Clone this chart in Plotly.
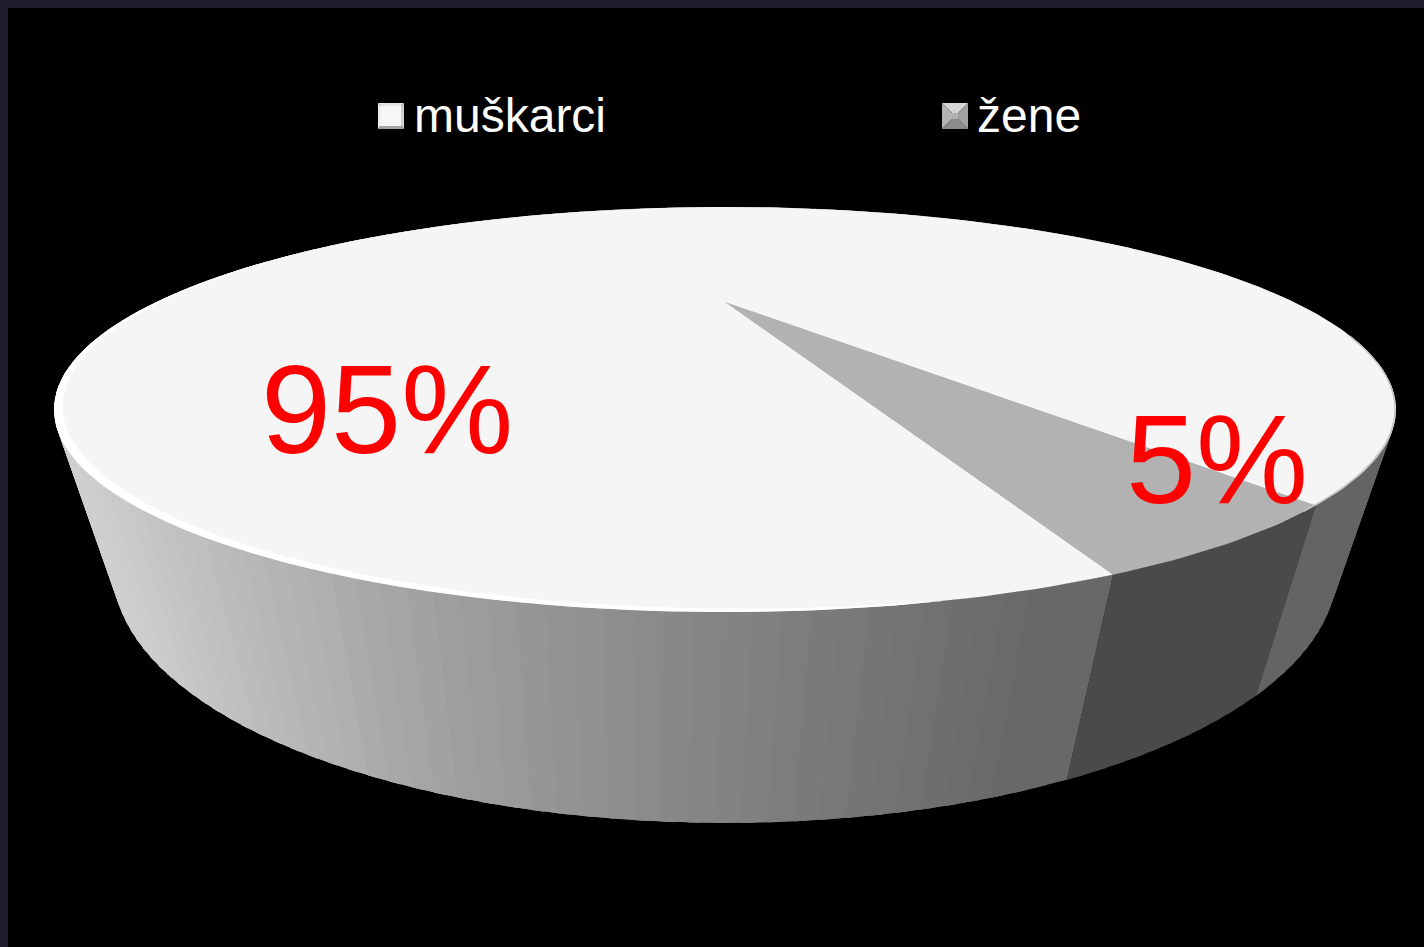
import numpy as np
import plotly.graph_objects as go

# ---- data ----
categories = ["muškarci", "žene"]
shares = [95, 5]
label_colors = ["#ff0000", "#ff0000"]

W, H = 1424, 947
START_DEG = 160.0          # clockwise from the far side, where the first slice begins
TOP = dict(cx=725.0, cy=302.0, A=568.6, B=145.4, k=0.531, warp=2.4)
BOT = dict(cx=725.0, cy=443.5, A=530.0, B=189.75, k=0.5, warp=1.7)
TOP_FILL = ["#f5f5f5", "#b2b2b2"]


def project(theta_deg, geo, r=1.0):
    th = np.asarray(theta_deg, dtype=float)
    th = th - geo["warp"] * np.sin(np.radians(2 * (th - START_DEG)))
    t = np.radians(th)
    u, v = r * np.sin(t), r * np.cos(t)
    w = 1 + geo["k"] * v
    return geo["cx"] + geo["A"] * u / w, geo["cy"] - geo["B"] * v / w


def wall_gray(x):
    return np.interp(x, [50, 130, 500, 720, 900, 1060, 1300, 1400],
                     [210, 206, 158, 136, 118, 104, 100, 100])


def gray(v):
    v = int(round(float(v)))
    return f"rgb({v},{v},{v})"


def poly(xs, ys, color, name=None):
    return go.Scatter(
        x=list(xs) + [xs[0]], y=list(ys) + [ys[0]], mode="lines", fill="toself",
        fillcolor=color, line=dict(color=color, width=0),
        hoverinfo="skip", showlegend=False, name=name)


fig = go.Figure()

# slice spans, derived from the values
spans = []
a = START_DEG
for s in shares:
    spans.append((a, a + 360 * s / sum(shares)))
    a += 360 * s / sum(shares)

# side walls: thin overlapping strips, so the shading has no visible seams
strips = []
for i, (a0, a1) in enumerate(spans):
    n = max(6, int((a1 - a0) / 1.5))
    edges = np.linspace(a0, a1, n + 1)
    step = edges[1] - edges[0]
    for e0 in edges[:-1]:
        e1 = min(e0 + 2.5 * step, a1)
        tx, ty = project([e0, e1], TOP)
        bx, by = project([e0, e1], BOT)
        mx, my = project(e0 + step / 2, TOP)
        nx, ny = project(e0 + step / 2, BOT)
        strips.append((i, e0, tx, ty, bx, by, (mx + nx) / 2))
for i, e0, tx, ty, bx, by, xm in sorted(strips, key=lambda q: (q[0], -q[1])):
    c = gray(74) if i == 1 else gray(wall_gray(xm))
    fig.add_trace(poly([tx[0], tx[1], bx[1], bx[0]], [ty[0], ty[1], by[1], by[0]], c))

# backing disc, then the top faces (the disc hides the hairline between the slices)
arc = np.linspace(0, 360, 361)
x, y = project(arc, TOP, r=0.998)
fig.add_trace(poly(list(x), list(y), "#d4d4d4"))
for i, (a0, a1) in enumerate(spans):
    arc = np.linspace(a0, a1, max(8, int(a1 - a0)))
    x, y = project(arc, TOP)
    fig.add_trace(poly([TOP["cx"]] + list(x), [TOP["cy"]] + list(y), TOP_FILL[i], name=categories[i]))

# white bevel on the near-left rim
arc = np.linspace(170, 292, 90)
taper = np.sin(np.pi * (arc - arc[0]) / (arc[-1] - arc[0])) ** 0.5
ox, oy = project(arc, TOP)
ix, iy = project(arc, TOP, r=1 - 0.0095 * taper)
fig.add_trace(poly(list(ox) + list(ix[::-1]), list(oy) + list(iy[::-1]), "#ffffff"))

# soft grey edge on the near-right rim
arc = np.linspace(100, 143.4, 40)
ex, ey = project(arc, TOP, r=0.999)
fig.add_trace(go.Scatter(x=ex, y=ey, mode="lines", line=dict(color="#c4c4c4", width=1.5),
                         hoverinfo="skip", showlegend=False))

# legend swatches with bevelled facets
FACETS = [
    dict(x=378, y=103, s=26, b=3, top="#e4e4e4", left="#eeeeee", right="#d0d0d0", bottom="#a4a4a4", mid="#f6f6f6"),
    dict(x=942, y=103, s=26, b=10, top="#d4d4d4", left="#b4b4b4", right="#a0a0a0", bottom="#8c8c8c", mid="#b0b0b0"),
]
for f, name in zip(FACETS, categories):
    x0, y0, s, b = f["x"], f["y"], f["s"], f["b"]
    x1, y1 = x0 + s, y0 + s
    fig.add_trace(poly([x0, x1, x1 - b, x0 + b], [y0, y0, y0 + b, y0 + b], f["top"], name=name))
    fig.add_trace(poly([x0, x0 + b, x0 + b, x0], [y0, y0 + b, y1 - b, y1], f["left"]))
    fig.add_trace(poly([x1, x1, x1 - b, x1 - b], [y0, y1, y1 - b, y0 + b], f["right"]))
    fig.add_trace(poly([x0, x0 + b, x1 - b, x1], [y1, y1 - b, y1 - b, y1], f["bottom"]))
    fig.add_trace(poly([x0 + b, x1 - b, x1 - b, x0 + b], [y0 + b, y0 + b, y1 - b, y1 - b], f["mid"]))

FONT = "Liberation Sans"
annotations = [
    dict(x=411.5, y=115, text=categories[0], xanchor="left", font=dict(size=48, color="#ffffff", family=FONT)),
    dict(x=975, y=115, text=categories[1], xanchor="left", font=dict(size=48, color="#ffffff", family=FONT)),
    dict(x=387, y=409, text=f"{shares[0]}%", xanchor="center", font=dict(size=126, color=label_colors[0], family=FONT)),
    dict(x=1217, y=459, text=f"{shares[1]}%", xanchor="center", font=dict(size=126, color=label_colors[1], family=FONT)),
]
for an in annotations:
    an.update(xref="x", yref="y", showarrow=False, yanchor="middle")

BORDER = "#1f1d2d"
fig.update_layout(
    width=W, height=H, margin=dict(l=0, r=0, t=0, b=0, pad=0), autosize=False,
    paper_bgcolor="#000000", plot_bgcolor="#000000", showlegend=False,
    xaxis=dict(range=[0, W], visible=False, fixedrange=True),
    yaxis=dict(range=[H, 0], visible=False, fixedrange=True),
    annotations=annotations,
    shapes=[
        dict(type="rect", xref="x", yref="y", x0=0, x1=W, y0=0, y1=8, fillcolor=BORDER, line_width=0, layer="below"),
        dict(type="rect", xref="x", yref="y", x0=0, x1=8, y0=0, y1=H, fillcolor=BORDER, line_width=0, layer="below"),
    ],
)
fig.write_html("out.html", config=dict(displayModeBar=False),
               post_script="document.body.style.margin='0';document.body.style.background='#000';")
